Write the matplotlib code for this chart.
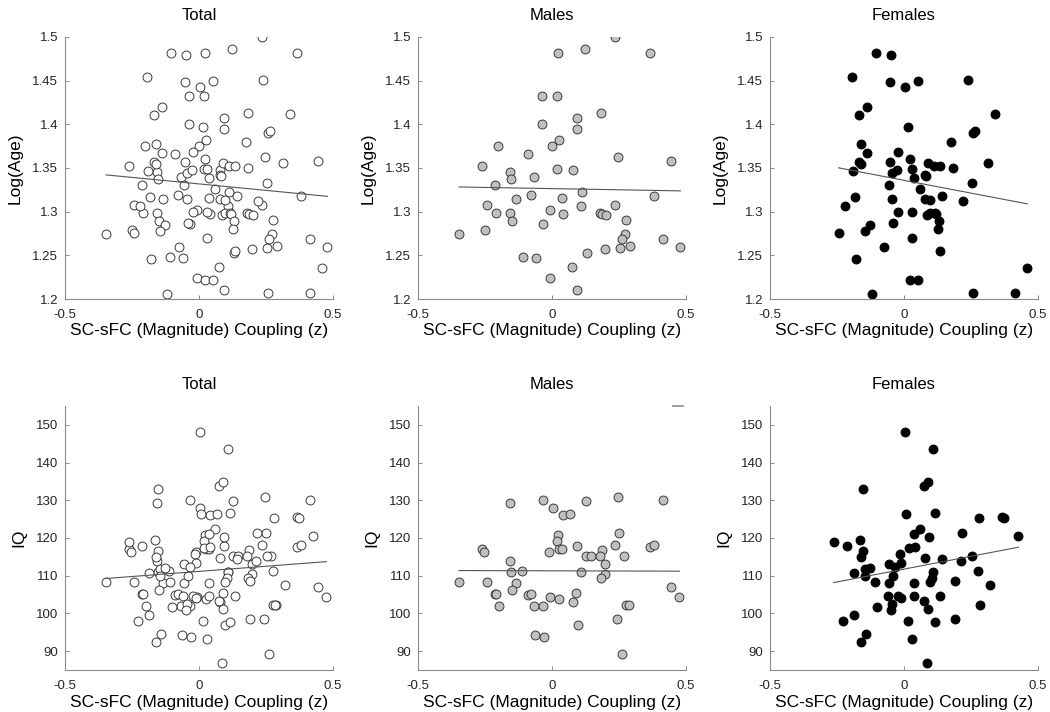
import numpy as np
import matplotlib
matplotlib.use('Agg')
import matplotlib.pyplot as plt

plt.rcParams['font.family'] = ['Liberation Sans', 'DejaVu Sans']

# coupling (z) and log(age), males
m_age_x = [0.235, 0.021, 0.124, 0.364, -0.036, 0.019, 0.184, 0.094, 0.092, -0.038,
           0.025, -0.001, -0.200, -0.090, 0.245, -0.260, -0.157, -0.152, -0.068, 0.017,
           0.078, 0.443, -0.214, -0.077, 0.037, 0.111, -0.136, -0.244, 0.110, 0.235,
           0.380, -0.210, -0.156, -0.009, 0.042, 0.179, 0.187, 0.200, -0.151, -0.033,
           0.277, -0.347, -0.251, 0.271, 0.262, 0.416, 0.290, 0.254, 0.199, 0.130,
           0.479, -0.110, -0.058, 0.073, -0.007, 0.094]
m_age_y = [1.500, 1.482, 1.486, 1.482, 1.433, 1.432, 1.413, 1.407, 1.395, 1.400,
           1.382, 1.375, 1.375, 1.366, 1.363, 1.352, 1.345, 1.337, 1.340, 1.349,
           1.348, 1.358, 1.330, 1.319, 1.316, 1.322, 1.314, 1.308, 1.306, 1.308,
           1.318, 1.299, 1.298, 1.302, 1.297, 1.298, 1.297, 1.296, 1.289, 1.286,
           1.290, 1.275, 1.279, 1.274, 1.269, 1.269, 1.261, 1.258, 1.257, 1.253,
           1.259, 1.248, 1.247, 1.237, 1.224, 1.210]

# females, log(age)
f_age_x = [-0.106, -0.047, -0.194, -0.051, 0.005, 0.054, 0.240, -0.138, -0.168, 0.338,
           0.015, 0.257, 0.264, 0.177, -0.160, -0.137, -0.021, -0.169, -0.160, -0.052,
           0.022, 0.090, 0.111, 0.136, 0.184, 0.314, -0.190, -0.044, -0.025, 0.028,
           0.036, 0.077, 0.083, -0.056, 0.059, 0.252, -0.183, -0.219, -0.044, 0.079,
           0.096, 0.141, 0.219, -0.021, 0.030, 0.085, 0.096, 0.116, 0.121, -0.042,
           0.132, -0.127, -0.146, 0.125, -0.244, 0.028, -0.075, 0.135, -0.180, 0.460,
           0.021, 0.053, -0.120, 0.257, 0.416]
f_age_y = [1.482, 1.479, 1.454, 1.448, 1.443, 1.450, 1.451, 1.420, 1.411, 1.412,
           1.397, 1.390, 1.392, 1.380, 1.377, 1.367, 1.368, 1.357, 1.355, 1.357,
           1.360, 1.356, 1.352, 1.352, 1.350, 1.356, 1.346, 1.344, 1.348, 1.349,
           1.338, 1.342, 1.341, 1.331, 1.326, 1.333, 1.317, 1.306, 1.315, 1.315,
           1.313, 1.318, 1.312, 1.300, 1.300, 1.296, 1.298, 1.298, 1.297, 1.287,
           1.289, 1.285, 1.278, 1.280, 1.276, 1.270, 1.259, 1.255, 1.246, 1.236,
           1.222, 1.222, 1.206, 1.207, 1.207]

# males, IQ
m_iq_x = [-0.035, 0.127, 0.246, 0.415, -0.156, 0.002, 0.040, 0.069, 0.022, 0.017,
          0.025, 0.037, 0.251, 0.235, 0.095, 0.188, 0.367, 0.380, -0.260, -0.255,
          -0.012, 0.127, 0.146, 0.178, 0.269, 0.199, -0.156, -0.152, -0.113, 0.109,
          0.197, 0.184, -0.347, -0.244, -0.135, -0.151, -0.214, -0.210, -0.090, -0.077,
          0.089, 0.078, -0.009, 0.027, 0.444, 0.475, -0.198, -0.067, -0.035, 0.275,
          0.287, 0.242, 0.096, -0.063, -0.030, 0.261]
m_iq_y = [130.2, 129.8, 131.0, 130.2, 129.2, 128.0, 126.2, 126.3, 120.9, 119.1,
          117.1, 117.2, 121.3, 118.2, 117.9, 116.9, 117.7, 118.1, 117.1, 116.2,
          116.3, 115.3, 115.1, 115.1, 115.3, 113.2, 114.0, 111.1, 111.3, 111.1,
          110.4, 109.3, 108.3, 108.3, 108.2, 106.2, 105.2, 105.1, 105.0, 105.1,
          105.4, 103.1, 104.3, 103.8, 107.1, 104.3, 102.1, 102.1, 101.9, 102.3,
          102.3, 98.6, 96.9, 94.3, 93.8, 89.3]

# females, IQ
f_iq_x = [0.002, 0.109, -0.153, 0.073, 0.090, 0.007, 0.117, 0.280, 0.364, 0.373,
          0.427, -0.263, -0.211, -0.164, -0.153, -0.162, 0.058, 0.036, 0.093, 0.215,
          0.020, 0.042, -0.016, 0.079, 0.142, 0.252, -0.056, -0.012, -0.035, -0.144,
          -0.127, -0.185, -0.146, 0.211, 0.275, 0.321, 0.107, 0.105, 0.098, -0.110,
          -0.056, 0.037, 0.189, -0.041, -0.058, -0.021, -0.010, 0.036, 0.073, 0.133,
          -0.044, -0.099, -0.050, 0.088, 0.285, -0.227, -0.188, 0.015, 0.117, 0.191,
          -0.142, -0.160, 0.031, 0.085]
f_iq_y = [148.2, 143.7, 133.1, 133.7, 134.8, 126.3, 126.6, 125.2, 125.6, 125.3,
          120.4, 119.0, 118.0, 119.4, 116.5, 115.0, 122.4, 121.0, 120.2, 121.3,
          117.3, 117.6, 115.8, 114.8, 114.5, 115.2, 113.2, 113.3, 112.3, 111.8,
          112.1, 110.8, 109.9, 113.9, 111.3, 107.5, 110.9, 109.3, 108.4, 108.3,
          108.2, 108.0, 108.6, 109.9, 104.7, 104.7, 104.0, 104.7, 103.4, 104.7,
          102.4, 101.6, 100.8, 101.3, 102.3, 98.0, 99.7, 97.9, 97.6, 98.6,
          94.6, 92.4, 93.3, 86.9]

# fitted lines as shown (Total, Males, Females)
age_fit_slope = [-0.0297, -0.0054, -0.0586]
age_fit_icpt = [1.3318, 1.3264, 1.3359]
iq_fit_slope = [5.44, -0.2, 13.6]
iq_fit_icpt = [111.15, 111.3, 111.75]

titles = ['Total', 'Males', 'Females']
x_ticks = [-0.5, 0, 0.5]
x_ticklabels = ['-0.5', '0', '0.5']
age_ticks = [1.2, 1.25, 1.3, 1.35, 1.4, 1.45, 1.5]
age_ticklabels = ['1.2', '1.25', '1.3', '1.35', '1.4', '1.45', '1.5']
iq_ticks = [90, 100, 110, 120, 130, 140, 150]

fig = plt.figure(figsize=(10.5, 7.12), dpi=100)
W, H = 1050, 712

def add_ax(x0, x1, ytop, ybot):
    return fig.add_axes([x0 / W, 1 - ybot / H, (x1 - x0) / W, (ybot - ytop) / H])

cols = [(65, 333), (418, 686), (770, 1038)]
face = ['white', '#c0c0c0', 'black']
edge = ['#3a3a3a', '#3a3a3a', 'black']

rows = [
    dict(ytop=37, ybot=299, ylim=(1.2, 1.5), ticks=age_ticks, labels=age_ticklabels,
         ylabel='Log(Age)', slope=age_fit_slope, icpt=age_fit_icpt,
         data=[(m_age_x + f_age_x, m_age_y + f_age_y), (m_age_x, m_age_y), (f_age_x, f_age_y)]),
    dict(ytop=406, ybot=670, ylim=(85, 155), ticks=iq_ticks, labels=[str(t) for t in iq_ticks],
         ylabel='IQ', slope=iq_fit_slope, icpt=iq_fit_icpt,
         data=[(m_iq_x + f_iq_x, m_iq_y + f_iq_y), (m_iq_x, m_iq_y), (f_iq_x, f_iq_y)]),
]

for r, row in enumerate(rows):
    for c, (x0, x1) in enumerate(cols):
        ax = add_ax(x0, x1, row['ytop'], row['ybot'])
        xs = np.array(row['data'][c][0])
        ys = np.array(row['data'][c][1])
        ax.plot(xs, ys, 'o', ms=6.4, mfc=face[c], mec=edge[c], mew=0.7, zorder=2)
        lx = np.array([xs.min(), xs.max()])
        ax.plot(lx, row['slope'][c] * lx + row['icpt'][c], color='#555555', lw=0.8, zorder=3)
        ax.set_xlim(-0.5, 0.5)
        ax.set_ylim(*row['ylim'])
        ax.set_xticks(x_ticks)
        ax.set_xticklabels(x_ticklabels)
        ax.set_yticks(row['ticks'])
        ax.set_yticklabels(row['labels'])
        for s in ['top', 'right']:
            ax.spines[s].set_visible(False)
        for s in ['left', 'bottom']:
            ax.spines[s].set_color('#8a8a8a')
            ax.spines[s].set_linewidth(0.8)
        ax.tick_params(direction='in', length=3, width=0.7, color='#8a8a8a',
                       labelsize=9.5, labelcolor='#262626')
        ax.tick_params(axis='x', pad=7)
        ax.tick_params(axis='y', pad=5)
        ax.set_title(titles[c], fontsize=12, color='black', pad=12)
        ax.set_ylabel(row['ylabel'], fontsize=12.5, labelpad=7)
        ax.set_xlabel('SC-sFC (Magnitude) Coupling (z)', fontsize=12.5, labelpad=2)
        if r == 1 and c == 1:
            ax.plot([0.952, 0.99], [1.0, 1.0], transform=ax.transAxes,
                    color='#8a8a8a', lw=1.2, clip_on=False)

fig.savefig('out.png', dpi=100)
